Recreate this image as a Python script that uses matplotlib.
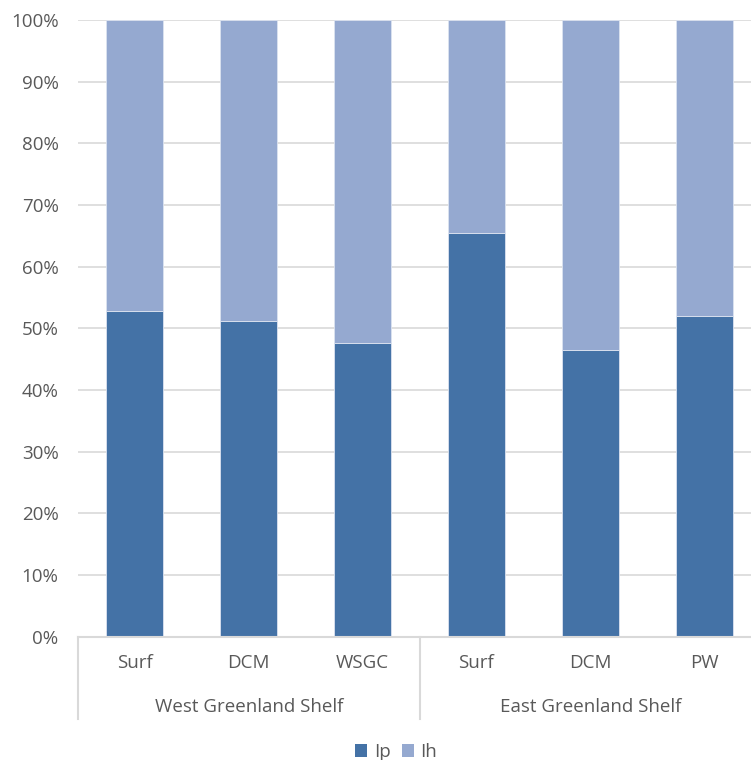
import matplotlib
matplotlib.use('Agg')
import matplotlib.pyplot as plt
import matplotlib.transforms as mtransforms
from matplotlib.patches import Patch

# Share of Ip and Ih at each water mass, percent
categories = ['Surf', 'DCM', 'WSGC', 'Surf', 'DCM', 'PW']
groups = ['West Greenland Shelf', 'East Greenland Shelf']
group_sizes = [3, 3]
ip_share = [52.8, 51.1, 47.6, 65.4, 46.4, 52.0]
ih_share = [100 - v for v in ip_share]
yticks = [0, 10, 20, 30, 40, 50, 60, 70, 80, 90, 100]

ip_color = '#4472A6'
ih_color = '#95A9D0'
text_color = '#595959'
line_color = '#D9D9D9'

plt.rcParams['font.family'] = ['Open Sans', 'DejaVu Sans']
plt.rcParams['font.size'] = 13.5

W, H = 751, 760
fig = plt.figure(figsize=(W / 100, H / 100), dpi=100)
ax_left, ax_bottom, ax_w, ax_h = 78, 636.5, 683, 616.5
ax = fig.add_axes([ax_left / W, (H - ax_bottom) / H, ax_w / W, ax_h / H])

x = list(range(len(categories)))
ax.bar(x, ip_share, width=0.5, color=ip_color, edgecolor='#DCE3F0', linewidth=0.6, zorder=3)
ax.bar(x, ih_share, bottom=ip_share, width=0.5, color=ih_color, edgecolor='#DCE3F0',
       linewidth=0.6, zorder=3)

ax.set_xlim(-0.5, len(categories) - 0.5)
ax.set_ylim(0, 100)
ax.set_yticks(yticks)
ax.set_yticklabels([f'{v}%' for v in yticks], color=text_color)
ax.tick_params(axis='y', length=0, pad=14)
ax.set_xticks([])
ax.grid(axis='y', color=line_color, linewidth=1.2, zorder=0)
for s in ax.spines.values():
    s.set_visible(False)
ax.axhline(0, color=line_color, linewidth=1.5, zorder=4, clip_on=False)

# two-level category axis below the plot
trans = mtransforms.blended_transform_factory(ax.transData, ax.transAxes)
px = 1 / ax_h
for xi, lab in zip(x, categories):
    ax.text(xi, -26.5 * px, lab, transform=trans, ha='center', va='center', color=text_color)

start = 0
for g, n in zip(groups, group_sizes):
    ax.text(start + (n - 1) / 2, -70 * px, g, transform=trans, ha='center', va='center',
            color=text_color)
    ax.plot([start - 0.5, start - 0.5], [0, -82 * px], transform=trans, color=line_color,
            linewidth=1.5, clip_on=False)
    start += n
ax.plot([start - 0.5, start - 0.5], [0, -82 * px], transform=trans, color=line_color,
        linewidth=1.5, clip_on=False)

handles = [Patch(facecolor=ip_color, label='Ip'), Patch(facecolor=ih_color, label='Ih')]
fig.legend(handles=handles, loc='center', bbox_to_anchor=(396 / W, 1 - 752 / H), ncol=2,
           frameon=False, handlelength=0.65, handleheight=0.65, handletextpad=0.35,
           columnspacing=0.6, labelcolor=text_color, borderpad=0.1)

fig.savefig('out.png', dpi=100)
